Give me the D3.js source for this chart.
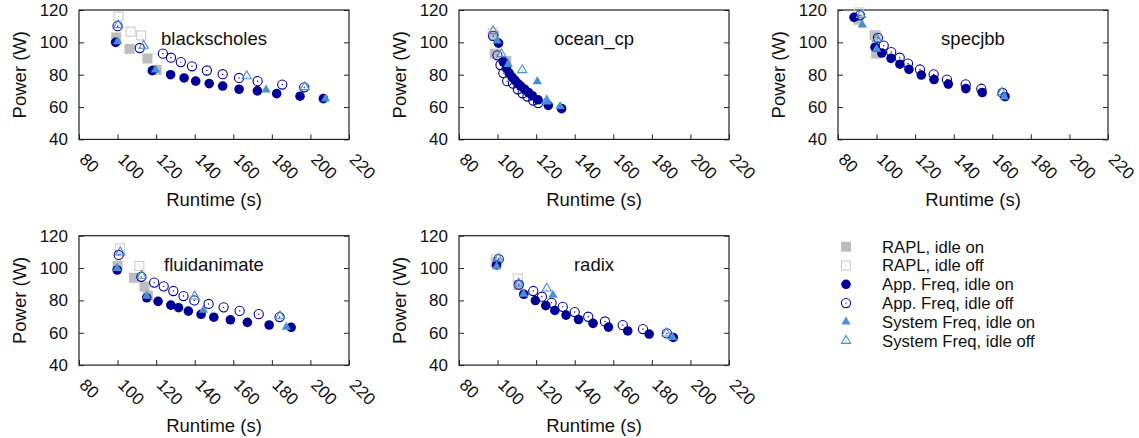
<!DOCTYPE html>
<html><head><meta charset="utf-8">
<script src="https://cdn.jsdelivr.net/npm/d3@7"></script>
<style>
body{margin:0;background:#fff;}
svg{display:block;font-family:"Liberation Sans",Arial,Helvetica,sans-serif;}
</style></head>
<body>
<svg id="chart" width="1139" height="438"></svg>
<script>
// ---------- data ----------
const benchmarks = ["blackscholes","ocean_cp","specjbb","fluidanimate","radix"];
const seriesNames = ["RAPL, idle on","RAPL, idle off","App. Freq, idle on","App. Freq, idle off","System Freq, idle on","System Freq, idle off"];
const xTicks = [80,100,120,140,160,180,200,220];
const yTicks = [40,60,80,100,120];
const xLabel = "Runtime (s)";
const yLabel = "Power (W)";

// blackscholes
const blackscholes_raplOn  = [[99.3,103],[106.2,96],[115.5,90],[120.3,83]];
const blackscholes_raplOff = [[100.5,116],[106.8,106.6],[112.2,104.3]];
const blackscholes_appOn   = [[99,100],[118,82.5],[127.5,80],[134.5,78],[140.5,76],[147.5,74.5],[154.5,73],[163,71],[172.5,70],[182.5,68.3],[194.6,66.7],[206.7,65.2]];
const blackscholes_appOff  = [[100,110],[111.5,96.5],[123.5,93],[127.7,90.5],[132.8,87.8],[138.6,85.2],[146.3,82.6],[154.5,80.3],[163,78],[172.6,76],[185.4,73.9],[196.8,72.2]];
const blackscholes_sysOn   = [[100,100.5],[119.7,83],[177,70.6],[207.8,65.1]];
const blackscholes_sysOff  = [[100.3,110.7],[113.5,98],[167,79.1],[197,72.4]];

// ocean_cp
const ocean_cp_raplOn  = [[98.3,104],[98.5,93],[104.5,88.5]];
const ocean_cp_raplOff = [[97.5,106]];
const ocean_cp_appOn   = [[100.5,99.5],[103,88],[104.5,84],[106,81],[107.5,78.5],[109,76.5],[110.5,74.5],[112,73],[114,71],[116,69],[118,67],[121,64.5],[126.3,61],[133.2,59]];
const ocean_cp_appOff  = [[97.7,104],[99.9,92],[101.5,86],[103,81],[105,76],[108,74.5],[110.5,71],[113,68.5],[115.5,66.5],[118.5,64],[121,62.5]];
const ocean_cp_sysOn   = [[99.8,101],[105.5,86.5],[120.6,75.7],[125.5,63.3],[132.4,60.4]];
const ocean_cp_sysOff  = [[97.7,107],[102,92.8],[112.8,82.9],[125.5,64]];

// specjbb
const specjbb_raplOn  = [[90.5,114],[99,104.5],[99.8,93]];
const specjbb_raplOff = [[90.8,118.5],[99.8,104]];
const specjbb_appOn   = [[88.3,115.5],[99.2,97],[102.7,93.4],[107.5,90.1],[112.1,86.5],[116.8,83.3],[123.2,79.8],[129.8,77],[137.2,74.2],[146.3,71.4],[154.8,69],[166.6,66.4]];
const specjbb_appOff  = [[91.4,116.7],[100.7,102.8],[103.7,98],[107.6,94],[112,90.5],[116.3,86.9],[122.5,83.2],[129.6,80.2],[136.5,77],[146.2,74],[154.3,71.3],[165.3,68.7]];
const specjbb_sysOn   = [[92.6,110.8],[100,95.8],[166.2,66.4]];
const specjbb_sysOff  = [[91.9,117],[100.2,102],[165,69]];

// fluidanimate
const fluidanimate_raplOn  = [[100,101.5],[108.5,94],[114,88.5],[115.7,83]];
const fluidanimate_raplOff = [[101.3,112.2],[111.3,101.3]];
const fluidanimate_appOn   = [[99.8,98.8],[115.1,81.6],[121,79.4],[127.6,77.1],[131.6,75.5],[136.7,73.4],[143.3,71.4],[149.9,69.6],[158.5,68],[167.3,66.4],[178.6,64.8],[190,63.3]];
const fluidanimate_appOff  = [[100.6,108.1],[112.3,94.6],[119,91],[123.9,88.7],[128.9,85.8],[134.2,82.7],[139.8,80],[147.2,77.8],[155,75.7],[163.3,73.5],[173.2,71.5],[184,69.7]];
const fluidanimate_sysOn   = [[99.8,99.8],[115.1,82.7],[144.5,74],[187.5,63.5]];
const fluidanimate_sysOff  = [[101.4,109.8],[112.5,95.3],[140,82.5],[184.2,70.3]];

// radix
const radix_raplOn  = [[99,103.5],[110.8,89.5]];
const radix_raplOff = [[99.3,105.5],[110.5,93.5]];
const radix_appOn   = [[99.5,101.9],[113.6,83.8],[119.6,79.9],[125,76.8],[129.7,73.8],[135.5,70.9],[142,68.2],[149.5,65.8],[157.5,63.5],[167.5,61.1],[178.6,59.2],[191.1,57.1]];
const radix_appOff  = [[100.6,105.5],[111,89.7],[118.5,85.8],[123,82.3],[128,78.5],[133.8,76],[140,72.8],[147,69.9],[155.7,67],[164.9,64.7],[175.4,62.3],[187.8,59.6]];
const radix_sysOn   = [[99.5,101],[113.5,84],[128.7,83.3],[190.7,57.2]];
const radix_sysOff  = [[100.3,105.8],[111,90.4],[125.5,87.4],[187.5,59.6]];

// ---------- build table ----------
const dataTable = {
  blackscholes: [blackscholes_raplOn,blackscholes_raplOff,blackscholes_appOn,blackscholes_appOff,blackscholes_sysOn,blackscholes_sysOff],
  ocean_cp: [ocean_cp_raplOn,ocean_cp_raplOff,ocean_cp_appOn,ocean_cp_appOff,ocean_cp_sysOn,ocean_cp_sysOff],
  specjbb: [specjbb_raplOn,specjbb_raplOff,specjbb_appOn,specjbb_appOff,specjbb_sysOn,specjbb_sysOff],
  fluidanimate: [fluidanimate_raplOn,fluidanimate_raplOff,fluidanimate_appOn,fluidanimate_appOff,fluidanimate_sysOn,fluidanimate_sysOff],
  radix: [radix_raplOn,radix_raplOff,radix_appOn,radix_appOff,radix_sysOn,radix_sysOff]
};

// ---------- styles ----------
const NAVY = "#000096", TRI = "#4a8fd2", GRAY = "#bdbdbd", LGRAY = "#cdcdcd";
const FS = 18.5, TFS = 17;
const layout = [
  {x0:79, y0:10}, {x0:459, y0:10}, {x0:838, y0:10},
  {x0:79, y0:235.7}, {x0:459, y0:235.7}
];
const PW = 270, PH = 129.4;

const svg = d3.select("#chart");

function drawMarker(g, type, cx, cy) {
  if (type === 0) { // filled gray square
    g.append("rect").attr("x",cx-5).attr("y",cy-5).attr("width",10).attr("height",10).attr("fill",GRAY);
  } else if (type === 1) { // open light square
    g.append("rect").attr("x",cx-4.5).attr("y",cy-4.5).attr("width",9).attr("height",9)
      .attr("fill","none").attr("stroke",LGRAY).attr("stroke-width",1.1);
    g.append("circle").attr("cx",cx).attr("cy",cy).attr("r",0.7).attr("fill",LGRAY);
  } else if (type === 2) { // filled navy circle
    g.append("circle").attr("cx",cx).attr("cy",cy).attr("r",4.8).attr("fill",NAVY);
  } else if (type === 3) { // open navy circle
    g.append("circle").attr("cx",cx).attr("cy",cy).attr("r",4.6).attr("fill","none").attr("stroke",NAVY).attr("stroke-width",1.1);
    g.append("circle").attr("cx",cx).attr("cy",cy).attr("r",0.7).attr("fill",NAVY);
  } else if (type === 4) { // filled triangle
    g.append("path").attr("transform",`translate(${cx},${cy})`)
      .attr("d", d3.symbol(d3.symbolTriangle, 38)()).attr("fill",TRI);
  } else { // open triangle
    g.append("path").attr("transform",`translate(${cx},${cy})`)
      .attr("d", d3.symbol(d3.symbolTriangle, 36)()).attr("fill","none").attr("stroke",TRI).attr("stroke-width",1.1);
    g.append("circle").attr("cx",cx).attr("cy",cy+0.8).attr("r",0.6).attr("fill",TRI);
  }
}

benchmarks.forEach((name, i) => {
  const L = layout[i];
  const x = d3.scaleLinear().domain([80,220]).range([L.x0, L.x0+PW]);
  const y = d3.scaleLinear().domain([40,120]).range([L.y0+PH, L.y0]);
  const g = svg.append("g");

  // left axis
  const ga = g.append("g").attr("transform",`translate(${L.x0},0)`)
    .call(d3.axisLeft(y).tickValues(yTicks).tickSize(-5).tickPadding(11).tickFormat(d3.format("d")));
  ga.select(".domain").remove();
  ga.selectAll("line").attr("stroke","#222");
  ga.selectAll("text").attr("font-size",TFS).attr("fill","#111").attr("font-family",null);
  // right mirror ticks
  const gr = g.append("g").attr("transform",`translate(${L.x0+PW},0)`)
    .call(d3.axisRight(y).tickValues(yTicks).tickSize(-5).tickFormat(""));
  gr.select(".domain").remove();
  gr.selectAll("line").attr("stroke","#222");
  // bottom axis
  const gb = g.append("g").attr("transform",`translate(0,${L.y0+PH})`)
    .call(d3.axisBottom(x).tickValues(xTicks).tickSize(-5).tickFormat(d3.format("d")));
  gb.select(".domain").remove();
  gb.selectAll("line").attr("stroke","#222");
  gb.selectAll("text").attr("font-size",TFS).attr("fill","#111").attr("font-family",null)
    .attr("text-anchor","start").attr("x",0).attr("y",0).attr("dy",0)
    .attr("transform","translate(-1,21) rotate(45)");

  // box
  g.append("rect").attr("x",L.x0).attr("y",L.y0).attr("width",PW).attr("height",PH)
    .attr("fill","none").attr("stroke","#222").attr("stroke-width",1.2);

  // labels
  g.append("text").attr("x",L.x0+PW/2).attr("y",L.y0+PH+60.5).attr("dy","0.35em")
    .attr("text-anchor","middle").attr("font-size",FS).attr("fill","#111").text(xLabel);
  g.append("text").attr("transform",`translate(${L.x0-59},${L.y0+PH/2}) rotate(-90)`).attr("dy","0.35em")
    .attr("text-anchor","middle").attr("font-size",FS).attr("fill","#111").text(yLabel);
  g.append("text").attr("x",L.x0+PW/2).attr("y",L.y0+29).attr("dy","0.35em")
    .attr("text-anchor","middle").attr("font-size",FS).attr("fill","#111").text(name);

  // points
  const pg = g.append("g");
  dataTable[name].forEach((pts, s) => {
    pts.forEach(p => drawMarker(pg, s, x(p[0]), y(p[1])));
  });
});

// legend
const lg = svg.append("g");
seriesNames.forEach((s, i) => {
  const yy = 246.7 + i*18.8;
  drawMarker(lg, i, 846, yy);
  lg.append("text").attr("x",882).attr("y",yy).attr("dy","0.35em")
    .attr("font-size",16.7).attr("fill","#111").text(s);
});
</script>
</body></html>
